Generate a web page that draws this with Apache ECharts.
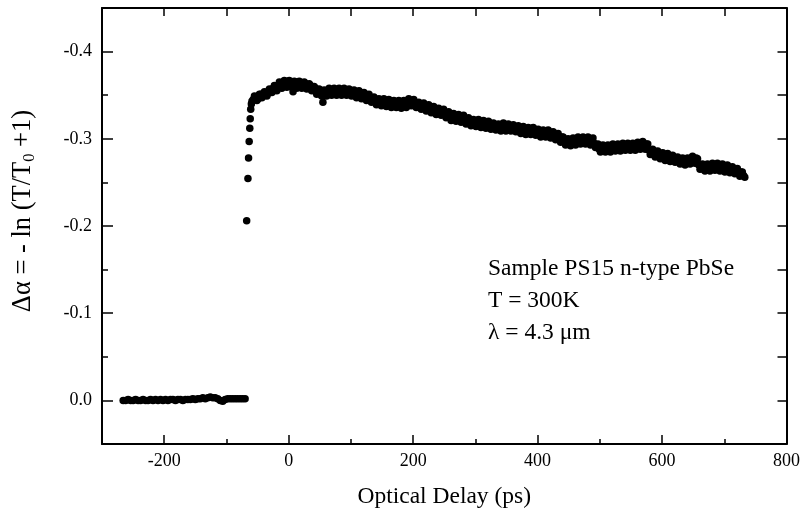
<!DOCTYPE html>
<html>
<head>
<meta charset="utf-8">
<script src="https://cdn.jsdelivr.net/npm/echarts@6/dist/echarts.min.js"></script>
<style>
html,body{margin:0;padding:0;background:#fff;}
#chart{width:803px;height:514px;}
</style>
</head>
<body>
<div id="chart"></div>
<script>
// ---- data ----
const delays = [
-266,-262,-258,-254,-250,-246,-242,-238,-234,-230,-226,-222,-218,-214,-210,-206,-202,-198,-194,-190,
-186,-182,-178,-174,-170,-166,-162,-158,-154,-150,-146,-142,-138,-134,-130,-126,-122,-118,-114,-110,
-106,-102,-98,-94,-90,-86,-82,-78,-74,-70,
-67.5,-65.5,-64.5,-63.5,-62.5,-61.8,-61,-60,-59,
-57,-53,-49,-45,-41,-37,-33,-29,-25,-21,-17,-13,-9,-5,-1,3,7,11,15,19,23,27,31,35,39,43,47,51,55,59,
63,67,71,75,79,83,87,91,95,99,103,107,111,115,119,123,127,131,135,139,143,147,151,155,159,163,167,171,175,179,
183,187,191,195,199,203,207,211,215,219,223,227,231,235,239,243,247,251,255,259,263,267,271,275,279,283,287,291,295,299,
303,307,311,315,319,323,327,331,335,339,343,347,351,355,359,363,367,371,375,379,383,387,391,395,399,403,407,411,415,419,
423,427,431,435,439,443,447,451,455,459,463,467,471,475,479,483,487,491,495,499,503,507,511,515,519,523,527,531,535,539,
543,547,551,555,559,563,567,571,575,579,583,587,591,595,599,603,607,611,615,619,623,627,631,635,639,643,647,651,655,659,
663,667,671,675,679,683,687,691,695,699,703,707,711,715,719,723,727,731,733
];
const deltaAlpha = [
0.000,0.000,-0.001,0.000,0.000,-0.001,0.000,0.000,-0.001,0.000,0.000,-0.001,0.000,-0.001,0.000,-0.001,0.000,-0.001,0.000,-0.001,
-0.001,0.000,-0.001,-0.001,0.000,-0.001,-0.001,-0.001,-0.002,-0.001,-0.002,-0.002,-0.003,-0.002,-0.003,-0.004,-0.003,-0.003,-0.002,0.000,
0.001,-0.001,-0.002,-0.002,-0.002,-0.002,-0.002,-0.002,-0.002,-0.002,
-0.206,-0.2545,-0.278,-0.297,-0.312,-0.323,-0.334,-0.340,-0.343,
-0.345,-0.348,-0.346,-0.351,-0.349,-0.353,-0.352,-0.356,-0.358,-0.357,-0.361,-0.362,-0.365,-0.363,-0.366,-0.364,-0.354,-0.365,-0.362,-0.364,-0.361,-0.363,-0.360,-0.361,-0.357,-0.358,-0.354,-0.352,-0.342,-0.353,
-0.351,-0.355,-0.352,-0.356,-0.353,-0.355,-0.352,-0.356,-0.353,-0.355,-0.351,-0.353,-0.350,-0.352,-0.349,-0.350,-0.347,-0.348,-0.344,-0.345,-0.341,-0.343,-0.340,-0.342,-0.339,-0.341,-0.338,-0.340,-0.337,-0.340,
-0.337,-0.341,-0.339,-0.344,-0.341,-0.342,-0.339,-0.337,-0.339,-0.335,-0.337,-0.333,-0.335,-0.331,-0.334,-0.330,-0.332,-0.327,-0.329,-0.324,-0.327,-0.323,-0.326,-0.322,-0.325,-0.320,-0.323,-0.318,-0.321,-0.317,
-0.320,-0.316,-0.319,-0.315,-0.318,-0.314,-0.317,-0.312,-0.316,-0.312,-0.315,-0.311,-0.316,-0.312,-0.315,-0.311,-0.313,-0.309,-0.312,-0.308,-0.311,-0.308,-0.312,-0.307,-0.309,-0.305,-0.308,-0.304,-0.308,-0.304,
-0.307,-0.302,-0.305,-0.299,-0.302,-0.296,-0.299,-0.294,-0.298,-0.296,-0.299,-0.297,-0.300,-0.297,-0.299,-0.296,-0.299,-0.295,-0.292,-0.288,-0.291,-0.287,-0.290,-0.288,-0.291,-0.289,-0.292,-0.289,-0.292,-0.290,
-0.293,-0.290,-0.292,-0.290,-0.293,-0.291,-0.295,-0.291,-0.294,-0.287,-0.285,-0.282,-0.284,-0.280,-0.282,-0.278,-0.281,-0.277,-0.279,-0.276,-0.278,-0.274,-0.276,-0.272,-0.275,-0.273,-0.277,-0.275,-0.278,-0.270,
-0.268,-0.265,-0.268,-0.266,-0.269,-0.267,-0.269,-0.266,-0.268,-0.265,-0.267,-0.264,-0.266,-0.263,-0.265,-0.261,-0.262,-0.258,-0.256
];
// second, interleaved scan of the decay (the scatter that thickens the band)
const delays2 = [
-55,-51,-47,-43,-39,-35,-31,-27,-23,-19,
-15,-11,-7,-3,1,5,9,13,17,21,
25,29,33,37,41,45,49,53,57,61,
65,69,73,77,81,85,89,93,97,101,
105,109,113,117,121,125,129,133,137,141,
145,149,153,157,161,165,169,173,177,181,
185,189,193,197,201,205,209,213,217,221,
225,229,233,237,241,245,249,253,257,261,
265,269,273,277,281,285,289,293,297,301,
305,309,313,317,321,325,329,333,337,341,
345,349,353,357,361,365,369,373,377,381,
385,389,393,397,401,405,409,413,417,421,
425,429,433,437,441,445,449,453,457,461,
465,469,473,477,481,485,489,493,497,501,
505,509,513,517,521,525,529,533,537,541,
545,549,553,557,561,565,569,573,577,581,
585,589,593,597,601,605,609,613,617,621,
625,629,633,637,641,645,649,653,657,661,
665,669,673,677,681,685,689,693,697,701,
705,709,713,717,721,725,729
];
const deltaAlpha2 = [
-0.349,-0.344,-0.351,-0.347,-0.354,-0.349,-0.357,-0.353,-0.361,-0.355,
-0.365,-0.358,-0.367,-0.359,-0.367,-0.359,-0.366,-0.358,-0.366,-0.358,
-0.365,-0.357,-0.363,-0.355,-0.360,-0.351,-0.357,-0.349,-0.356,-0.349,
-0.358,-0.350,-0.358,-0.350,-0.358,-0.350,-0.358,-0.350,-0.357,-0.349,
-0.356,-0.347,-0.355,-0.346,-0.353,-0.344,-0.351,-0.342,-0.348,-0.339,
-0.346,-0.338,-0.346,-0.337,-0.345,-0.336,-0.344,-0.336,-0.344,-0.335,
-0.344,-0.336,-0.346,-0.338,-0.345,-0.336,-0.342,-0.334,-0.341,-0.332,
-0.339,-0.330,-0.337,-0.328,-0.335,-0.327,-0.334,-0.324,-0.331,-0.321,
-0.329,-0.320,-0.328,-0.319,-0.327,-0.317,-0.324,-0.315,-0.322,-0.314,
-0.322,-0.313,-0.321,-0.312,-0.320,-0.311,-0.318,-0.310,-0.317,-0.309,
-0.318,-0.309,-0.317,-0.309,-0.316,-0.308,-0.315,-0.306,-0.314,-0.305,
-0.313,-0.305,-0.313,-0.304,-0.311,-0.302,-0.310,-0.302,-0.310,-0.301,
-0.308,-0.299,-0.306,-0.296,-0.302,-0.293,-0.300,-0.292,-0.301,-0.293,
-0.302,-0.294,-0.302,-0.294,-0.302,-0.293,-0.301,-0.290,-0.294,-0.285,
-0.293,-0.285,-0.293,-0.285,-0.294,-0.286,-0.294,-0.286,-0.295,-0.287,
-0.295,-0.287,-0.295,-0.287,-0.296,-0.288,-0.297,-0.288,-0.294,-0.282,
-0.288,-0.279,-0.286,-0.277,-0.284,-0.275,-0.283,-0.274,-0.281,-0.273,
-0.279,-0.271,-0.278,-0.270,-0.278,-0.271,-0.280,-0.272,-0.277,-0.265,
-0.271,-0.263,-0.271,-0.263,-0.272,-0.264,-0.272,-0.263,-0.271,-0.262,
-0.270,-0.261,-0.268,-0.260,-0.266,-0.257,-0.262
];
const xMajorTicks = [-200, 0, 200, 400, 600, 800];
const xMinorTicks = [-100, 100, 300, 500, 700];
const xTopTicks = [-200, -100, 0, 100, 200, 300, 400, 500, 600, 700];
const yMajorTicks = [-0.4, -0.3, -0.2, -0.1, 0.0];
const yMinorTicks = [-0.35, -0.25, -0.15, -0.05];
const yRightTicks = [-0.4, -0.35, -0.3, -0.25, -0.2, -0.15, -0.1, -0.05, 0.0];
const xTitle = 'Optical Delay (ps)';
const yTitle = 'Δα = - ln (T/T{sub|0} +1)';
const noteLines = ['Sample PS15 n-type PbSe', 'T = 300K', 'λ = 4.3 μm'];

// ---- chart ----
const FONT = 'Liberation Serif';
const black = '#000';
const points = delays.map((d, i) => [d, deltaAlpha[i]]);
const points2 = delays2.map((d, i) => [d, deltaAlpha2[i]]);

const chart = echarts.init(document.getElementById('chart'), null, {renderer: 'canvas'});

const baseX = {type: 'value', min: -300, max: 800, splitLine: {show: false}};
const baseY = {type: 'value', min: -0.45, max: 0.05, inverse: true, splitLine: {show: false}};
const tickStyle = {color: black, width: 1.5};

chart.setOption({
  animation: false,
  backgroundColor: '#fff',
  grid: {left: 102, right: 13, top: 8, bottom: 70},
  xAxis: [
    Object.assign({}, baseX, {
      position: 'bottom',
      axisLine: {show: true, onZero: false, lineStyle: {color: black, width: 2}},
      axisTick: {show: true, inside: true, length: 9, customValues: xMajorTicks, lineStyle: tickStyle},
      axisLabel: {show: true, customValues: xMajorTicks, margin: 8, color: black, fontFamily: FONT, fontSize: 18},
      name: xTitle, nameLocation: 'middle', nameGap: 41,
      nameTextStyle: {color: black, fontFamily: FONT, fontSize: 23.5}
    }),
    Object.assign({}, baseX, {
      position: 'bottom',
      axisLine: {show: false, onZero: false},
      axisTick: {show: true, inside: true, length: 5, customValues: xMinorTicks, lineStyle: tickStyle},
      axisLabel: {show: false}
    }),
    Object.assign({}, baseX, {
      position: 'top',
      axisLine: {show: true, onZero: false, lineStyle: {color: black, width: 2}},
      axisTick: {show: true, inside: true, length: 8, customValues: xTopTicks, lineStyle: tickStyle},
      axisLabel: {show: false}
    })
  ],
  yAxis: [
    Object.assign({}, baseY, {
      position: 'left',
      axisLine: {show: true, onZero: false, lineStyle: {color: black, width: 2}},
      axisTick: {show: true, inside: true, length: 11, customValues: yMajorTicks, lineStyle: tickStyle},
      axisLabel: {show: true, customValues: yMajorTicks, margin: 10, color: black, fontFamily: FONT, fontSize: 18,
        formatter: v => (Math.abs(v) < 1e-9 ? 0 : v).toFixed(1)},
      name: yTitle, nameLocation: 'middle', nameGap: 64, nameRotate: 90,
      nameTextStyle: {color: black, fontFamily: FONT, fontSize: 26.5, padding: [0, 0, 0, 30],
        rich: {sub: {fontFamily: FONT, fontSize: 16.5, color: black, padding: [12, 0, 0, 0]}}}
    }),
    Object.assign({}, baseY, {
      position: 'left',
      axisLine: {show: false, onZero: false},
      axisTick: {show: true, inside: true, length: 6, customValues: yMinorTicks, lineStyle: tickStyle},
      axisLabel: {show: false}
    }),
    Object.assign({}, baseY, {
      position: 'right',
      axisLine: {show: true, onZero: false, lineStyle: {color: black, width: 2}},
      axisTick: {show: true, inside: true, length: 9, customValues: yRightTicks, lineStyle: tickStyle},
      axisLabel: {show: false}
    })
  ],
  graphic: [{
    type: 'text', left: 488, top: 253, silent: true,
    style: {text: noteLines.join('\n'), fill: black, font: '23.5px "Liberation Serif"', lineHeight: 32}
  }],
  series: [{
    type: 'scatter',
    xAxisIndex: 0, yAxisIndex: 0,
    data: points,
    symbol: 'circle',
    symbolSize: 7.5,
    itemStyle: {color: black, opacity: 1},
    emphasis: {disabled: true}
  }, {
    type: 'scatter',
    xAxisIndex: 0, yAxisIndex: 0,
    data: points2,
    symbol: 'circle',
    symbolSize: 7.5,
    itemStyle: {color: black, opacity: 1},
    emphasis: {disabled: true}
  }]
});
</script>
</body>
</html>
